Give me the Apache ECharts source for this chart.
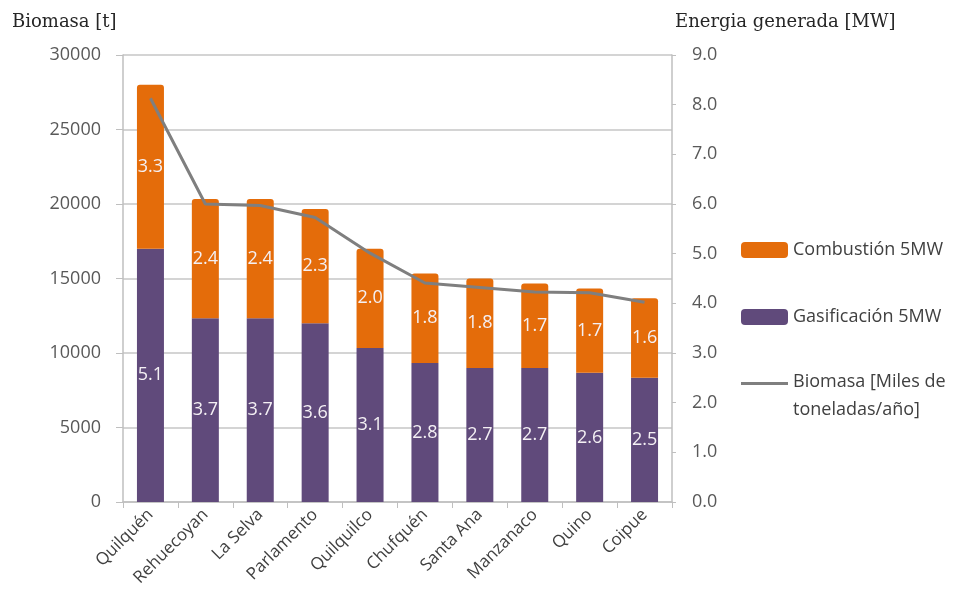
<!DOCTYPE html>
<html>
<head>
<meta charset="utf-8">
<script src="https://cdn.jsdelivr.net/npm/echarts@6/dist/echarts.min.js"></script>
<style>
  html, body { margin: 0; padding: 0; background: #ffffff; }
  #chart { width: 958px; height: 609px; }
</style>
</head>
<body>
<div id="chart"></div>
<script>
// Localities
const categories = ['Quilquén', 'Rehuecoyan', 'La Selva', 'Parlamento', 'Quilquilco',
  'Chufquén', 'Santa Ana', 'Manzanaco', 'Quino', 'Coipue'];

// Generated power [MW] per technology
const gasificacion = [5.1, 3.7, 3.7, 3.6, 3.1, 2.8, 2.7, 2.7, 2.6, 2.5];
const combustion = [3.3, 2.4, 2.4, 2.3, 2.0, 1.8, 1.8, 1.7, 1.7, 1.6];

// Available biomass [t/year]
const biomasa = [27100, 20000, 19900, 19100, 16700, 14700, 14400, 14100, 14050, 13400];

const nameComb = 'Combustión 5MW';
const nameGas = 'Gasificación 5MW';
const nameBio = 'Biomasa [Miles de\ntoneladas/año]';

const sans = '"Open Sans", "DejaVu Sans", sans-serif';
const serif = '"DejaVu Serif", "Liberation Serif", serif';

const chart = echarts.init(document.getElementById('chart'), null, { renderer: 'canvas' });

const barLabel = {
  show: true,
  position: 'inside',
  color: '#f4f0f4',
  fontFamily: sans,
  fontSize: 18,
  formatter: p => p.value.toFixed(1)
};

const legendBase = {
  orient: 'vertical',
  left: 736,
  itemWidth: 47,
  itemGap: 0,
  textStyle: { fontFamily: sans, fontSize: 18, color: '#404040', lineHeight: 28 },
  selectedMode: false
};

chart.setOption({
  animation: false,
  backgroundColor: '#ffffff',
  grid: { left: 123, right: 286, top: 55, bottom: 107 },
  legend: [
    Object.assign({}, legendBase, { top: 231, itemHeight: 16, data: [{ name: nameComb, icon: 'roundRect' }] }),
    Object.assign({}, legendBase, { top: 298, itemHeight: 16, data: [{ name: nameGas, icon: 'roundRect' }] }),
    Object.assign({}, legendBase, {
      top: 363, itemHeight: 28,
      data: [{
        name: nameBio,
        // short bar on top, tiny invisible point below keeps it on the first text line
        icon: 'path://M0,0h47v3h-47z M0,27.99h0.01v0.01h-0.01z',
        itemStyle: { color: '#7f7f7f' }
      }]
    })
  ],
  xAxis: {
    type: 'category',
    data: categories,
    axisLine: { lineStyle: { color: '#bfbfbf', width: 1.5 } },
    axisTick: { show: true, length: 6, lineStyle: { color: '#bfbfbf' } },
    axisLabel: {
      rotate: 45,
      interval: 0,
      margin: 10,
      fontFamily: sans,
      fontSize: 17,
      color: '#404040'
    }
  },
  yAxis: [
    {
      type: 'value',
      min: 0,
      max: 30000,
      interval: 5000,
      name: 'Biomasa [t]',
      nameLocation: 'end',
      nameGap: 24,
      nameTextStyle: { fontFamily: serif, fontSize: 18, color: '#262626', align: 'left', padding: [0, 0, 0, -111] },
      axisLine: { show: true, lineStyle: { color: '#bfbfbf', width: 1.5 } },
      axisTick: { show: true, length: 7, lineStyle: { color: '#bfbfbf' } },
      axisLabel: { margin: 22, fontFamily: sans, fontSize: 18, color: '#595959', formatter: v => String(v) },
      splitLine: { show: true, lineStyle: { color: '#c6c6c6', width: 1.5 } }
    },
    {
      type: 'value',
      min: 0,
      max: 9,
      interval: 1,
      position: 'right',
      name: 'Energia generada [MW]',
      nameLocation: 'end',
      nameGap: 24,
      nameTextStyle: { fontFamily: serif, fontSize: 18, color: '#262626', align: 'left', padding: [0, 0, 0, 3] },
      axisLine: { show: true, lineStyle: { color: '#bfbfbf', width: 1.5 } },
      axisTick: { show: true, length: 4, lineStyle: { color: '#bfbfbf' } },
      axisLabel: {
        margin: 20,
        fontFamily: sans,
        fontSize: 18,
        color: '#595959',
        formatter: v => v.toFixed(1)
      },
      splitLine: { show: false }
    }
  ],
  series: [
    {
      name: nameGas,
      type: 'bar',
      stack: 'mw',
      yAxisIndex: 1,
      barWidth: 27,
      data: gasificacion,
      itemStyle: { color: '#604a7b' },
      label: barLabel
    },
    {
      name: nameComb,
      type: 'bar',
      stack: 'mw',
      yAxisIndex: 1,
      barWidth: 27,
      data: combustion,
      itemStyle: { color: '#e46c0a', borderRadius: [3, 3, 0, 0] },
      label: barLabel
    },
    {
      name: nameBio,
      type: 'line',
      yAxisIndex: 0,
      data: biomasa,
      symbol: 'none',
      lineStyle: { color: '#7f7f7f', width: 3 },
      itemStyle: { color: '#7f7f7f' },
      z: 5
    }
  ]
});
</script>
</body>
</html>
